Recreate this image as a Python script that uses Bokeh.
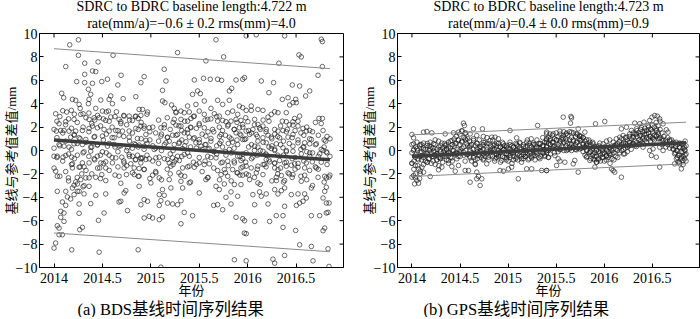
from bokeh.plotting import figure
from bokeh.models import Range1d, FixedTicker, Title
from bokeh.layouts import row
from bokeh.embed import file_html
from bokeh.resources import INLINE
try:
    from bokeh.models import GlobalInlineStyleSheet
    SHEETS = [GlobalInlineStyleSheet(css="body { margin: -2px 0 0 0; }")]
except Exception:
    SHEETS = []

SERIF = "Liberation Serif"
CJK = "'Liberation Serif', 'Noto Sans CJK SC'"

x_min, x_max = 2013.85, 2016.99
y_min, y_max = -10, 10
x_ticks = [2014, 2014.5, 2015, 2015.5, 2016, 2016.5]
x_tick_labels = ["2014", "2014.5", "2015", "2015.5", "2016", "2016.5"]
y_ticks = [-10, -8, -6, -4, -2, 0, 2, 4, 6, 8, 10]
y_tick_labels = ["\u221210", "\u22128", "\u22126", "\u22124", "\u22122", "0", "2", "4", "6", "8", "10"]

bds_titles = ["SDRC to BDRC baseline length:4.722 m", "rate(mm/a)=\u22120.6 \u00b1 0.2 rms(mm)=4.0"]
gps_titles = ["SDRC to BDRC baseline length:4.723 m", "rate(mm/a)=0.4 \u00b1 0.0 rms(mm)=0.9"]
captions = ["(a) BDS\u57fa\u7ebf\u65f6\u95f4\u5e8f\u5217\u7ed3\u679c", "(b) GPS\u57fa\u7ebf\u65f6\u95f4\u5e8f\u5217\u7ed3\u679c"]
x_label = "\u5e74\u4efd"
y_label = "\u57fa\u7ebf\u4e0e\u53c2\u8003\u503c\u5dee\u503c/mm"

# fitted rate lines and bounds (start/end)
fit_year = [2014.0, 2016.85]
bds_fit = [0.9, -0.8]
bds_upper = [8.7, 7.0]
bds_lower = [-7.05, -8.65]
gps_fit = [-0.49, 0.66]
gps_upper = [1.34, 2.42]
gps_lower = [-2.22, -1.14]

bds_points = [
(2014.162, 9.03), (2014.252, 9.46), (2014.252, 8.14), (2014.61, 8.14), (2014.121, 7.17), (2014.317, 7.46), (2014.455, 7.57), (2014.317, 6.51), (2014.397, 6.8), (2014.431, 6.74), (2014.693, 6.43), (2014.234, 5.89), (2014.317, 5.8), (2014.397, 5.74), (2014.493, 5.89), (2014.552, 6.09), (2014.659, 5.6), (2014.897, 5.8), (2014.355, 5.23), (2014.079, 4.89), (2014.1, 4.51), (2014.379, 4.8), (2014.19, 4.37), (2014.224, 4.29), (2014.362, 4.37), (2014.483, 4.31), (2014.586, 4.66), (2014.569, 4.37), (2014.714, 4.43), (2014.845, 4.6), (2014.259, 3.94), (2014.355, 4.0), (2014.603, 4.0), (2014.017, 3.14), (2014.131, 3.29), (2014.179, 3.43), (2014.276, 3.09), (2014.3, 3.14), (2014.431, 3.6), (2014.5, 3.37), (2014.562, 3.37), (2014.645, 3.31), (2014.586, 2.86), (2014.724, 2.94), (2014.776, 2.94), (2014.845, 2.94), (2014.879, 3.51), (2014.052, 2.29), (2014.121, 2.46), (2014.207, 2.66), (2014.362, 2.66), (2014.414, 2.8), (2014.466, 2.8), (2014.534, 2.57), (2014.672, 2.66), (2014.69, 2.46), (2014.81, 2.57), (2014.869, 2.74), (2014.024, 1.66), (2014.069, 1.71), (2014.103, 1.71), (2014.155, 1.66), (2014.224, 1.66), (2014.293, 1.71), (2014.362, 1.89), (2014.397, 2.09), (2014.448, 1.94), (2014.517, 1.8), (2014.569, 1.66), (2014.638, 1.71), (2014.707, 1.66), (2014.776, 1.66), (2014.845, 1.89), (2014.897, 2.09), (2014.172, 1.14), (2014.207, 1.37), (2014.259, 1.09), (2014.328, 0.94), (2014.414, 1.14), (2014.5, 1.23), (2014.621, 1.09), (2014.672, 1.31), (2014.776, 1.14), (2014.862, 1.03), (2014.052, 0.51), (2014.103, 0.37), (2014.155, 0.29), (2014.207, 0.57), (2014.293, 0.51), (2014.379, 0.29), (2014.448, 0.46), (2014.552, 0.37), (2014.621, 0.51), (2014.672, 0.37), (2014.759, 0.23), (2014.828, 0.57), (2014.879, 0.46), (2014.0, -0.49), (2014.034, -0.49), (2014.093, -0.57), (2014.121, -0.43), (2014.183, -0.57), (2014.241, -0.4), (2014.31, -0.11), (2014.379, -0.06), (2014.448, -0.49), (2014.5, -0.11), (2014.569, -0.4), (2014.638, -0.63), (2014.7, -0.57), (2014.776, -0.34), (2014.81, -0.49), (2014.862, -0.4), (2014.897, -0.63), (2014.19, -1.14), (2014.293, -1.06), (2014.362, -1.06), (2014.414, -0.71), (2014.483, -1.06), (2014.534, -0.97), (2014.603, -1.06), (2014.724, -1.06), (2014.793, -1.14), (2014.845, -0.77), (2014.897, -1.06), (2014.19, -1.49), (2014.259, -1.43), (2014.31, -1.4), (2014.472, -1.49), (2014.534, -1.49), (2014.724, -1.49), (2014.828, -1.49), (2014.879, -1.54), (2014.017, -1.77), (2014.286, -2.0), (2014.362, -2.34), (2014.431, -2.29), (2014.493, -2.06), (2014.672, -2.2), (2014.748, -2.06), (2014.828, -2.06), (2014.879, -2.2), (2014.034, -2.2), (2014.148, -2.34), (2014.224, -2.69), (2014.276, -2.49), (2014.328, -2.34), (2014.207, -2.97), (2014.241, -2.86), (2014.31, -3.0), (2014.534, -2.57), (2014.241, -3.49), (2014.034, -3.49), (2014.121, -3.49), (2014.19, -3.2), (2014.259, -3.49), (2014.362, -3.06), (2014.741, -3.43), (2014.879, -3.06), (2014.138, -3.97), (2014.207, -3.77), (2014.31, -3.71), (2014.431, -3.83), (2014.534, -3.71), (2014.724, -3.63), (2014.086, -4.4), (2014.172, -4.14), (2014.259, -4.57), (2014.121, -4.69), (2014.379, -4.54), (2014.672, -4.4), (2014.69, -4.34), (2014.897, -4.63), (2014.069, -5.2), (2014.103, -5.34), (2014.259, -5.37), (2014.517, -5.34), (2014.759, -5.14), (2014.069, -5.71), (2014.103, -6.06), (2014.459, -5.97), (2014.034, -6.43), (2014.052, -6.63), (2014.266, -6.77), (2014.293, -6.57), (2014.052, -7.2), (2014.086, -7.2), (2014.017, -7.91), (2014.0, -8.34), (2014.183, -8.49), (2014.466, -8.69), (2014.869, -8.49),
(2015.673, 9.46), (2015.276, 8.37), (2015.752, 8.0), (2015.569, 7.66), (2015.138, 6.94), (2014.931, 6.31), (2015.156, 5.94), (2015.449, 6.03), (2015.545, 6.17), (2015.614, 6.09), (2015.69, 6.09), (2015.731, 6.0), (2015.88, 6.03), (2015.949, 6.09), (2015.121, 5.14), (2015.431, 4.8), (2015.483, 5.09), (2015.511, 4.86), (2015.835, 5.31), (2015.811, 5.09), (2015.552, 4.23), (2015.69, 4.29), (2015.811, 4.29), (2015.121, 4.23), (2015.145, 4.09), (2015.214, 3.89), (2015.242, 3.6), (2015.311, 3.37), (2015.38, 3.8), (2015.466, 3.94), (2015.621, 3.6), (2015.742, 3.94), (2015.914, 3.8), (2015.949, 3.66), (2014.914, 3.51), (2014.966, 3.29), (2015.259, 3.23), (2015.345, 3.23), (2015.397, 3.29), (2015.449, 2.94), (2015.5, 3.37), (2015.552, 3.09), (2015.656, 3.14), (2015.707, 2.94), (2015.794, 3.23), (2015.845, 3.37), (2015.897, 3.09), (2014.897, 3.0), (2015.242, 2.66), (2015.311, 2.66), (2015.38, 2.51), (2015.414, 2.74), (2015.587, 2.66), (2015.69, 2.51), (2015.742, 2.57), (2015.776, 2.46), (2015.828, 2.51), (2015.88, 2.66), (2015.931, 2.57), (2014.931, 2.09), (2014.983, 1.94), (2015.104, 1.94), (2015.138, 1.94), (2015.259, 2.17), (2015.311, 2.09), (2015.38, 1.8), (2015.414, 1.94), (2015.5, 2.17), (2015.552, 1.94), (2015.638, 1.8), (2015.707, 2.0), (2015.794, 2.09), (2015.863, 1.8), (2015.914, 1.94), (2015.949, 2.23), (2014.949, 1.37), (2015.104, 1.23), (2015.173, 1.14), (2015.225, 1.31), (2015.276, 1.37), (2015.345, 1.51), (2015.397, 1.14), (2015.449, 1.09), (2015.5, 0.94), (2015.569, 1.23), (2015.621, 1.03), (2015.725, 1.37), (2015.811, 1.14), (2015.88, 1.51), (2015.931, 1.31), (2014.949, 0.86), (2015.156, 0.66), (2015.19, 0.8), (2015.242, 0.51), (2015.294, 0.71), (2015.363, 0.74), (2015.466, 0.66), (2015.518, 0.37), (2015.569, 0.51), (2015.725, 0.8), (2015.845, 0.71), (2015.897, 0.51), (2015.949, 0.94), (2014.931, 0.37), (2015.035, 0.09), (2015.328, 0.17), (2015.604, 0.17), (2015.656, -0.06), (2015.811, 0.09), (2014.914, -0.63), (2014.949, -0.77), (2014.983, -0.71), (2015.052, -0.63), (2015.087, -0.57), (2015.173, -0.77), (2015.225, -0.63), (2015.276, -0.49), (2015.345, -0.34), (2015.397, -0.49), (2015.587, -0.49), (2015.673, -0.63), (2015.776, -0.4), (2015.897, -0.49), (2015.949, -0.69), (2015.19, -1.06), (2015.242, -0.97), (2015.294, -0.86), (2015.397, -1.34), (2015.449, -1.43), (2015.5, -1.06), (2015.552, -1.2), (2015.604, -1.14), (2015.725, -1.06), (2015.794, -0.91), (2015.863, -1.06), (2015.931, -0.86), (2014.931, -1.63), (2015.052, -1.91), (2015.207, -1.34), (2015.328, -1.49), (2015.759, -1.63), (2015.69, -1.71), (2015.845, -1.63), (2015.931, -1.49), (2015.018, -2.11), (2015.087, -2.34), (2015.19, -2.49), (2015.311, -2.11), (2015.587, -2.34), (2015.725, -2.06), (2015.794, -2.2), (2015.897, -1.91), (2015.949, -2.11), (2015.0, -2.77), (2015.311, -2.63), (2015.397, -2.77), (2015.569, -2.49), (2015.673, -3.06), (2015.759, -2.86), (2015.863, -2.91), (2015.931, -2.91), (2015.121, -3.34), (2015.207, -3.2), (2015.328, -3.2), (2015.5, -3.63), (2015.707, -3.34), (2015.828, -3.54), (2015.087, -3.77), (2015.138, -3.83), (2015.776, -4.0), (2015.897, -3.91), (2014.931, -4.2), (2014.966, -4.34), (2015.104, -4.29), (2015.173, -4.49), (2015.225, -4.57), (2015.276, -4.63), (2015.311, -4.29), (2015.087, -4.69), (2015.649, -4.69), (2015.69, -4.63), (2015.828, -4.57), (2015.742, -5.06), (2015.345, -5.29), (2015.431, -5.57), (2014.931, -5.77), (2014.983, -5.63), (2015.018, -5.77), (2015.087, -5.91), (2015.121, -5.69), (2015.311, -6.26), (2015.88, -5.71), (2015.949, -5.83), (2015.966, -7.06), (2015.863, -9.34), (2015.104, -9.97),
(2016.089, 9.89), (2016.382, 9.8), (2015.985, 9.8), (2016.761, 9.51), (2016.772, 9.31), (2016.53, 8.17), (2016.554, 8.0), (2016.323, 7.46), (2016.772, 7.17), (2016.727, 6.43), (2016.141, 5.94), (2016.268, 5.8), (2016.461, 5.6), (2016.537, 5.51), (2016.22, 4.94), (2016.599, 4.66), (2016.641, 5.09), (2015.968, 6.23), (2016.358, 4.37), (2016.417, 4.51), (2016.496, 4.37), (2016.468, 4.09), (2016.503, 4.09), (2016.434, 3.89), (2016.037, 3.8), (2016.106, 3.51), (2015.985, 3.43), (2016.037, 3.43), (2016.158, 3.43), (2016.279, 3.31), (2016.313, 3.23), (2016.399, 3.23), (2016.244, 3.09), (2016.485, 2.74), (2016.537, 2.94), (2016.737, 2.74), (2016.772, 2.74), (2016.072, 2.66), (2016.21, 2.86), (2016.358, 2.51), (2016.399, 2.46), (2016.468, 2.46), (2016.003, 2.46), (2016.106, 2.23), (2016.054, 1.8), (2016.123, 1.94), (2016.158, 2.09), (2016.192, 1.8), (2016.279, 1.8), (2016.313, 1.66), (2016.365, 1.71), (2016.41, 1.8), (2016.468, 2.17), (2016.52, 2.09), (2016.572, 1.89), (2016.606, 1.66), (2016.641, 1.71), (2016.779, 1.71), (2015.985, 1.66), (2015.968, 0.94), (2016.02, 1.37), (2016.089, 1.37), (2016.21, 1.31), (2016.244, 1.14), (2016.33, 1.09), (2016.417, 1.14), (2016.468, 1.37), (2016.658, 0.94), (2016.806, 0.8), (2016.106, 0.8), (2016.158, 1.09), (2016.192, 0.66), (2016.296, 0.57), (2016.52, 0.66), (2016.589, 0.66), (2016.641, 0.57), (2016.71, 0.57), (2016.072, 0.37), (2016.106, 0.29), (2016.244, 0.17), (2016.365, 0.23), (2016.468, 0.37), (2016.572, 0.29), (2016.779, 0.0), (2016.813, -0.11), (2015.985, -0.2), (2016.158, -0.06), (2016.192, -0.4), (2016.279, 0.0), (2016.399, -0.11), (2016.468, -0.06), (2016.554, -0.29), (2016.641, -0.2), (2016.744, -0.29), (2016.054, -0.57), (2016.192, -0.77), (2016.227, -0.97), (2016.279, -1.06), (2016.33, -0.86), (2016.382, -1.06), (2016.451, -1.26), (2016.485, -1.14), (2016.606, -1.06), (2016.668, -0.97), (2015.985, -1.34), (2016.037, -1.49), (2016.106, -1.34), (2016.175, -1.2), (2016.279, -1.49), (2016.313, -1.63), (2016.399, -1.34), (2016.52, -1.43), (2016.589, -1.49), (2016.71, -1.49), (2016.796, -2.2), (2016.841, -2.26), (2015.985, -2.0), (2016.089, -1.91), (2016.158, -2.06), (2016.296, -2.29), (2016.348, -2.14), (2016.417, -1.91), (2016.468, -2.06), (2016.589, -2.11), (2016.727, -2.29), (2016.813, -2.34), (2016.02, -2.49), (2016.106, -2.77), (2016.296, -2.57), (2016.382, -2.57), (2016.554, -2.63), (2016.658, -3.2), (2016.813, -3.14), (2016.279, -3.34), (2016.382, -3.2), (2016.348, -3.43), (2016.451, -3.77), (2016.52, -3.71), (2016.589, -3.71), (2016.796, -3.49), (2016.123, -3.54), (2016.054, -3.77), (2016.141, -3.91), (2016.192, -3.71), (2016.313, -3.71), (2016.606, -4.06), (2016.572, -4.34), (2016.779, -4.06), (2016.813, -4.49), (2016.841, -4.49), (2016.072, -4.63), (2016.21, -4.57), (2016.382, -4.77), (2016.503, -4.69), (2016.537, -4.49), (2016.813, -5.34), (2016.83, -5.29), (2016.296, -5.57), (2016.365, -5.57), (2016.658, -5.57), (2016.744, -5.57), (2015.968, -6.0), (2016.072, -6.06), (2016.227, -6.06), (2016.365, -6.57), (2016.496, -6.83), (2016.779, -6.86), (2016.796, -6.63), (2015.985, -7.11), (2016.537, -8.06), (2016.658, -8.2), (2016.83, -8.4), (2015.985, -9.43), (2016.261, -9.29), (2016.279, -9.63), (2016.382, -8.97), (2016.675, -9.43), (2016.841, -9.91),
]

# overlapping points in the dense middle of the BDS cloud: epoch -> values
bds_core = [
(2014.00, [1.8, -1.5, 0.2]), (2014.03, [-0.6, 2.5, 1.1]), (2014.06, [0.4, -2.2, 2.9]), (2014.09, [1.5, -0.9, 3.4]),
(2014.12, [-1.8, 0.8, 2.2]), (2014.15, [2.7, -0.3, -2.6]), (2014.18, [0.1, 1.9, -1.2]), (2014.21, [3.1, -0.7, 1.3]),
(2014.24, [-2.3, 0.6, 2.4]), (2014.27, [1.0, -1.4, 3.6]), (2014.30, [2.0, -0.2, -3.1]), (2014.33, [0.7, 2.8, -1.7]),
(2014.36, [-0.5, 1.6, 3.2]), (2014.39, [2.3, -2.0, 0.3]), (2014.42, [1.2, -0.8, 2.6]), (2014.45, [-1.5, 0.5, 3.0]),
(2014.48, [2.1, -0.4, -2.4]), (2014.51, [0.9, 2.7, -1.1]), (2014.54, [-0.2, 1.4, 3.3]), (2014.57, [2.5, -1.7, 0.6]),
(2014.60, [1.1, -0.6, 2.0]), (2014.63, [-2.1, 0.3, 2.9]), (2014.66, [1.7, -0.1, -1.4]), (2014.69, [0.4, 2.3, -2.8]),
(2014.72, [-0.9, 1.2, 3.0]), (2014.75, [2.2, -1.3, 0.0]), (2014.78, [0.8, -0.5, 2.6]), (2014.81, [-1.9, 0.2, 1.5]),
(2014.84, [2.9, -0.8, 0.5]), (2014.87, [0.3, 1.8, -2.2]), (2014.90, [-0.7, 1.0, 2.4]), (2014.93, [1.9, -1.6, 0.1]),
(2014.96, [0.6, -0.4, 3.1]), (2014.99, [-2.4, 0.9, 1.6]), (2015.02, [2.0, -0.9, 0.4]), (2015.05, [0.2, 1.5, -1.8]),
(2015.08, [-1.1, 2.6, 0.8]), (2015.11, [1.4, -2.5, 0.0]), (2015.14, [0.5, -0.7, 2.2]), (2015.17, [-1.6, 1.1, 2.8]),
(2015.20, [1.8, -0.3, -2.0]), (2015.23, [0.0, 2.4, -1.2]), (2015.26, [-0.8, 1.3, 3.3]), (2015.29, [2.1, -1.9, 0.6]),
(2015.32, [0.9, -0.5, 1.7]), (2015.35, [-2.2, 0.4, 2.5]), (2015.38, [1.5, -0.2, -1.4]), (2015.41, [0.3, 2.0, -2.7]),
(2015.44, [-1.0, 1.0, 2.9]), (2015.47, [1.9, -1.2, 0.2]), (2015.50, [0.7, -0.6, 2.3]), (2015.53, [-1.8, 0.1, 1.4]),
(2015.56, [2.6, -0.9, 0.5]), (2015.59, [0.1, 1.6, -2.3]), (2015.62, [-0.6, 0.8, 2.7]), (2015.65, [1.6, -1.5, -0.1]),
(2015.68, [0.4, -0.3, 2.9]), (2015.71, [-2.5, 0.6, 1.2]), (2015.74, [1.7, -1.0, 0.3]), (2015.77, [-0.1, 1.3, -1.9]),
(2015.80, [-1.3, 2.2, 0.6]), (2015.83, [1.0, -2.6, -0.2]), (2015.86, [0.2, -0.9, 1.8]), (2015.89, [-1.9, 0.9, 2.4]),
(2015.92, [1.4, -0.5, -2.1]), (2015.95, [-0.3, 2.0, -1.4]), (2015.98, [-1.0, 1.0, 2.8]), (2016.01, [1.7, -2.1, 0.3]),
(2016.04, [0.5, -0.7, 1.5]), (2016.07, [-2.3, 0.0, 2.2]), (2016.10, [1.2, -0.4, -1.6]), (2016.13, [0.0, 1.8, -2.9]),
(2016.16, [-1.2, 0.7, 2.6]), (2016.19, [1.6, -1.4, -0.3]), (2016.22, [0.3, -0.8, 2.5]), (2016.25, [-2.6, 0.4, 1.0]),
(2016.28, [1.4, -1.1, 0.1]), (2016.31, [-0.4, 1.2, -2.0]), (2016.34, [-1.5, 2.1, 0.5]), (2016.37, [0.8, -2.7, -0.4]),
(2016.40, [0.0, -1.0, 1.6]), (2016.43, [-2.0, 0.6, 2.2]), (2016.46, [1.1, -0.7, -2.3]), (2016.49, [-0.6, 1.7, -1.6]),
(2016.52, [-1.1, 0.9, 2.5]), (2016.55, [1.5, -2.2, 0.1]), (2016.58, [0.3, -0.9, 1.3]), (2016.61, [-2.5, -0.1, 2.0]),
(2016.64, [1.0, -0.5, -1.7]), (2016.67, [-0.2, 1.6, -3.0]), (2016.70, [-1.4, 0.5, 2.4]), (2016.73, [1.3, -1.6, -0.5]),
(2016.76, [0.1, -1.0, 2.3]), (2016.79, [-2.7, 0.3, 0.9]), (2016.82, [1.2, -1.2, -0.2]), (2016.85, [-0.5, 1.0, -2.1]),
]

gps_points = [
(2014.536, 2.34), (2014.546, 2.14), (2014.64, 1.85), (2014.733, 1.85), (2015.02, 1.71), (2015.307, 2.14), (2014.0, 1.37), (2014.017, 1.08), (2014.121, 1.57), (2014.156, 1.62), (2014.207, 1.51), (2014.346, 1.42), (2014.432, 1.51), (2014.484, 1.57), (2014.519, 1.65), (2014.553, 1.48), (2014.605, 1.42), (2014.674, 1.28), (2014.743, 1.2), (2014.83, 1.14), (2014.864, 1.14), (2014.899, 1.0), (2015.089, 1.08), (2015.4, 1.42), (2015.418, 1.14),
(2014.017, 0.57), (2014.052, 0.71), (2014.086, 0.51), (2014.121, 0.63), (2014.156, 0.43), (2014.19, 0.71), (2014.225, 0.57), (2014.242, 0.91), (2014.277, 0.8), (2014.311, 0.63), (2014.346, 0.43), (2014.38, 0.71), (2014.415, 0.85), (2014.45, 0.57), (2014.484, 0.91), (2014.519, 0.71), (2014.553, 1.0), (2014.571, 0.57), (2014.605, 0.43), (2014.64, 0.85), (2014.674, 0.63), (2014.709, 0.34), (2014.743, 0.71), (2014.778, 0.57), (2014.813, 0.85), (2014.847, 0.43), (2014.882, 0.63), (2014.916, 0.28), (2014.951, 0.57), (2014.985, 0.43), (2015.02, 0.71), (2015.055, 0.28), (2015.089, 0.51), (2015.124, 0.63), (2015.158, 0.34), (2015.193, 0.71), (2015.228, 0.43), (2015.262, 0.63), (2015.297, 0.28), (2015.331, 0.57), (2015.366, 0.43), (2015.4, 0.71),
(2014.017, 0.0), (2014.052, 0.14), (2014.086, -0.14), (2014.121, 0.06), (2014.156, -0.23), (2014.19, 0.14), (2014.225, -0.06), (2014.259, -0.28), (2014.294, 0.06), (2014.328, -0.14), (2014.363, 0.14), (2014.398, -0.23), (2014.432, 0.0), (2014.467, -0.28), (2014.501, 0.06), (2014.536, -0.14), (2014.571, -0.34), (2014.605, 0.0), (2014.64, -0.23), (2014.674, 0.14), (2014.709, -0.06), (2014.743, -0.28), (2014.778, 0.06), (2014.813, -0.17), (2014.847, 0.0), (2014.882, -0.34), (2014.916, -0.14), (2014.951, 0.06), (2014.985, -0.28), (2015.02, -0.06), (2015.055, -0.23), (2015.089, 0.06), (2015.124, -0.14), (2015.158, -0.34), (2015.193, 0.0), (2015.228, -0.23), (2015.262, 0.06), (2015.297, -0.14), (2015.331, 0.14), (2015.366, -0.23), (2015.4, 0.0),
(2014.035, -0.57), (2014.069, -0.8), (2014.104, -0.43), (2014.156, -1.0), (2014.173, -0.71), (2014.207, -0.51), (2014.259, -0.8), (2014.294, -0.63), (2014.346, -0.51), (2014.38, -0.85), (2014.415, -0.63), (2014.467, -0.71), (2014.501, -0.51), (2014.553, -0.91), (2014.605, -0.63), (2014.657, -0.8), (2014.692, -0.43), (2014.743, -0.71), (2014.795, -0.57), (2014.864, -0.71), (2014.899, -0.51), (2014.934, -0.85), (2014.985, -0.63), (2015.02, -0.43), (2015.055, -0.8), (2015.089, -0.57), (2015.141, -0.71), (2015.176, -0.51), (2015.21, -0.8), (2015.245, -0.63), (2015.279, -0.43), (2015.331, -0.71), (2015.383, -0.51),
(2014.0, -1.08), (2014.035, -1.28), (2014.069, -1.57), (2014.086, -1.77), (2014.104, -1.42), (2014.017, -2.14), (2014.035, -2.34), (2014.052, -2.56), (2014.069, -2.79), (2014.028, -2.85), (2014.0, -2.28), (2014.086, -1.99), (2014.121, -1.85), (2014.19, -2.22), (2014.242, -1.2), (2014.277, -1.65), (2014.311, -1.42), (2014.38, -1.08), (2014.415, -1.37), (2014.45, -1.77), (2014.484, -1.28), (2014.553, -1.71), (2014.588, -1.71), (2014.657, -1.14), (2014.674, -1.85), (2014.692, -2.22), (2014.605, -2.71), (2014.674, -2.42), (2014.726, -2.42), (2014.709, -2.99), (2014.778, -1.14), (2014.916, -1.71), (2014.951, -1.77), (2015.003, -1.57), (2015.037, -1.42), (2015.106, -2.42), (2015.193, -1.57), (2015.245, -1.57), (2015.349, -1.71), (2015.4, -1.71),
(2015.573, 2.85), (2015.653, 2.91), (2015.66, 2.79), (2015.649, 2.34), (2015.909, 2.28), (2016.005, 2.48), (2016.317, 2.34), (2016.368, 2.28), (2016.413, 2.42), (2016.455, 2.14), (2016.472, 2.56), (2016.496, 2.85), (2016.524, 2.99), (2016.552, 2.93), (2016.576, 2.71), (2016.611, 2.28), (2016.645, 1.77), (2016.662, 1.57), (2016.178, 1.85), (2016.23, 1.99), (2016.282, 1.71), (2016.334, 1.85), (2016.386, 1.99), (2016.42, 1.65), (2016.49, 1.77), (2016.541, 1.85), (2016.559, 1.57), (2015.798, 1.57), (2015.729, 1.85), (2015.4, 1.57), (2015.435, 1.42), (2015.469, 1.42), (2015.539, 1.65), (2015.573, 1.28), (2015.608, 1.48), (2015.66, 1.57), (2015.711, 1.42), (2015.746, 1.2), (2015.781, 1.08), (2015.815, 0.91),
(2015.4, 1.0), (2015.435, 0.85), (2015.469, 0.71), (2015.504, 0.91), (2015.539, 0.63), (2015.573, 1.0), (2015.608, 0.8), (2015.642, 0.57), (2015.677, 0.91), (2015.711, 0.71), (2015.746, 0.85), (2015.781, 0.57), (2015.815, 0.43), (2015.85, 0.71), (2015.884, 0.57), (2015.919, 0.34), (2015.954, 0.63), (2015.988, 0.57), (2016.023, 0.8), (2016.057, 0.91), (2016.092, 0.71), (2016.126, 1.0), (2016.161, 1.14), (2016.196, 1.28), (2016.23, 1.14), (2016.265, 1.42), (2016.299, 1.2), (2016.334, 1.42), (2016.368, 1.28), (2016.403, 1.14), (2016.438, 1.42), (2016.472, 1.2), (2016.507, 1.0), (2016.541, 1.28), (2016.576, 1.0), (2016.611, 0.85), (2016.645, 0.71), (2016.68, 0.91), (2016.714, 0.57), (2016.749, 0.71), (2016.783, 0.63), (2016.818, 0.51), (2016.835, 0.28),
(2015.4, 0.28), (2015.435, 0.14), (2015.469, 0.34), (2015.504, 0.14), (2015.539, 0.06), (2015.573, 0.28), (2015.608, 0.0), (2015.642, 0.14), (2015.677, 0.28), (2015.711, 0.06), (2015.746, 0.14), (2015.781, 0.28), (2015.815, 0.0), (2015.85, -0.14), (2015.884, -0.28), (2015.919, 0.0), (2015.954, -0.23), (2015.988, 0.14), (2016.023, 0.0), (2016.057, 0.28), (2016.092, 0.14), (2016.126, 0.43), (2016.161, 0.28), (2016.196, 0.57), (2016.23, 0.43), (2016.265, 0.71), (2016.299, 0.57), (2016.334, 0.34), (2016.368, 0.57), (2016.403, 0.28), (2016.472, 0.0), (2016.507, 0.14), (2016.576, 0.28), (2016.611, 0.0), (2016.714, 0.14), (2016.749, 0.0), (2016.783, 0.23), (2016.818, -0.14), (2016.835, 0.06), (2016.731, -0.28), (2016.766, -0.43), (2016.801, -0.57),
(2015.418, -0.57), (2015.487, -0.43), (2015.521, -0.71), (2015.504, -1.28), (2015.539, -0.91), (2015.59, -1.0), (2015.677, -1.14), (2015.694, -0.85), (2015.815, -0.57), (2015.85, -0.85), (2015.884, -0.71), (2015.902, -0.51), (2015.919, -1.0), (2015.936, -0.8), (2015.902, -1.42), (2016.075, -1.57), (2016.092, -1.71), (2016.109, -1.85), (2016.178, -2.28), (2015.729, -1.85), (2015.4, -1.71), (2015.988, -0.57), (2016.023, -0.43), (2016.057, -0.28), (2016.213, -0.28), (2016.49, -0.43), (2016.541, -0.57), (2016.576, -1.42), (2016.749, -0.71), (2016.766, -1.0), (2016.783, -1.14), (2016.801, -1.57), (2016.818, -0.85), (2016.731, -1.14), (2016.835, -0.71),
]

# dense core of the GPS series: epoch -> values read around the band centre
gps_core = [
(2014.00, [-0.2, -1.1, 0.5]), (2014.02, [-0.9, 0.1, -1.6]), (2014.04, [-0.4, -2.0, 0.3]), (2014.06, [0.0, -1.3, -0.7]),
(2014.08, [-0.5, 0.4, -2.4]), (2014.10, [-0.1, -0.8, 0.5]), (2014.12, [-0.6, 0.2, -1.2]), (2014.14, [0.1, -0.4, -0.9]),
(2014.16, [-0.3, 0.6, -1.0]), (2014.18, [-0.7, 0.0, 0.4]), (2014.20, [-0.2, -1.1, 0.3]), (2014.22, [0.2, -0.5, -0.9]),
(2014.24, [-0.4, 0.5, -0.1]), (2014.26, [-0.8, 0.1, -0.3]), (2014.28, [0.3, -0.6, -1.3]), (2014.30, [-0.1, 0.4, -0.7]),
(2014.32, [0.2, -0.5, -1.0]), (2014.34, [-0.3, 0.6, 0.0]), (2014.36, [-0.8, 0.1, 0.5]), (2014.38, [0.3, -0.4, -0.2]),
(2014.40, [-0.6, 0.2, 0.8]), (2014.42, [0.0, -0.9, 0.5]), (2014.44, [0.4, -0.3, 1.0]), (2014.46, [0.6, -0.2, 1.2]),
(2014.48, [0.1, 0.9, -0.5]), (2014.50, [0.5, 1.4, -0.1]), (2014.52, [0.8, 0.2, 1.7]), (2014.54, [0.3, 1.1, -0.4]),
(2014.56, [0.9, 0.0, 1.5]), (2014.58, [0.4, -0.3, 1.0]), (2014.60, [0.3, -0.5, 0.8]), (2014.62, [-0.2, 0.5, -0.9]),
(2014.64, [0.1, -0.6, 1.0]), (2014.66, [-0.3, 0.4, -1.2]), (2014.68, [0.6, -0.1, -0.7]), (2014.70, [0.2, -0.4, 0.9]),
(2014.72, [-0.6, 0.3, -0.1]), (2014.74, [0.5, -0.8, 0.1]), (2014.76, [-0.2, 0.7, -0.5]), (2014.78, [0.3, -0.3, 1.1]),
(2014.80, [-0.1, 0.6, -0.8]), (2014.82, [0.4, -0.4, 0.0]), (2014.84, [-0.5, 0.2, 0.9]), (2014.86, [0.1, -0.9, 0.5]),
(2014.88, [-0.3, 0.4, -0.6]), (2014.90, [0.6, 0.0, -0.4]), (2014.92, [-0.2, 0.3, -1.0]), (2014.94, [0.2, -0.5, 0.7]),
(2014.96, [-0.6, 0.1, 0.4]), (2014.98, [0.3, -0.3, -0.8]), (2015.00, [-0.4, 0.2, -0.9]), (2015.02, [0.1, -0.6, 0.5]),
(2015.04, [-0.2, 0.4, -1.1]), (2015.06, [0.3, -0.5, -0.1]), (2015.08, [-0.7, 0.0, 0.6]), (2015.10, [-0.3, 0.4, -0.8]),
(2015.12, [0.2, -0.4, 0.7]), (2015.14, [-0.5, 0.1, -1.0]), (2015.16, [0.0, -0.7, 0.5]), (2015.18, [-0.2, 0.3, -0.5]),
(2015.20, [0.4, -0.3, 0.9]), (2015.22, [-0.1, 0.6, -0.7]), (2015.24, [0.3, -0.5, 1.0]), (2015.26, [0.0, 0.5, -0.4]),
(2015.28, [0.5, -0.2, -0.8]), (2015.30, [-0.3, 0.3, 0.9]), (2015.32, [0.2, -0.6, 0.6]), (2015.34, [0.6, -0.1, -0.5]),
(2015.36, [-0.2, 0.4, 1.1]), (2015.38, [0.1, -0.4, 0.7]), (2015.40, [0.4, -0.2, 0.9]), (2015.42, [0.0, 0.6, -0.6]),
(2015.44, [0.5, -0.3, 1.0]), (2015.46, [0.7, 0.2, 1.3]), (2015.48, [0.4, 1.0, -0.2]), (2015.50, [0.9, 0.3, 1.5]),
(2015.52, [0.5, 1.2, -0.1]), (2015.54, [0.8, 0.1, 1.4]), (2015.56, [0.4, 1.1, 0.9]), (2015.58, [0.7, 0.0, 1.6]),
(2015.60, [1.0, 0.4, 1.4]), (2015.62, [0.6, 1.3, 0.1]), (2015.64, [0.9, 0.3, 1.6]), (2015.66, [0.5, 1.1, 0.0]),
(2015.68, [0.8, 1.5, 0.3]), (2015.70, [1.2, 0.5, 0.1]), (2015.72, [0.7, 1.4, 0.2]), (2015.74, [0.4, 1.0, 1.3]),
(2015.76, [0.9, 0.2, 1.2]), (2015.78, [0.5, 1.1, -0.1]), (2015.80, [0.3, 0.8, -0.4]), (2015.82, [0.0, 0.6, -0.5]),
(2015.84, [0.4, -0.2, 0.9]), (2015.86, [-0.1, 0.5, -0.7]), (2015.88, [0.2, -0.4, 0.7]), (2015.90, [-0.2, -0.8, 0.3]),
(2015.92, [-0.5, 0.1, -1.0]), (2015.94, [-0.1, -0.7, 0.4]), (2015.96, [-0.4, 0.2, -0.9]), (2015.98, [-0.6, 0.0, -0.3]),
(2016.00, [-0.2, -0.9, 0.3]), (2016.02, [-0.5, 0.1, -0.8]), (2016.04, [-0.1, -0.6, 0.4]), (2016.06, [-0.4, 0.2, -1.1]),
(2016.08, [-0.7, 0.0, -0.3]), (2016.10, [-0.2, 0.4, -0.8]), (2016.12, [-0.5, 0.1, 0.5]), (2016.14, [0.0, -0.6, 0.6]),
(2016.16, [0.3, -0.2, 0.8]), (2016.18, [0.5, 0.0, 1.0]), (2016.20, [0.1, 0.7, -0.3]), (2016.22, [0.6, 0.2, 1.1]),
(2016.24, [0.3, 0.9, -0.1]), (2016.26, [0.7, 0.4, 1.2]), (2016.28, [0.5, 1.0, 0.1]), (2016.30, [1.1, 0.6, 1.5]),
(2016.32, [0.8, 1.4, 0.4]), (2016.34, [1.2, 0.7, 1.7]), (2016.36, [0.9, 1.5, 0.5]), (2016.38, [1.3, 0.8, 1.8]),
(2016.40, [1.0, 1.6, 0.6]), (2016.42, [1.4, 0.9, 1.9]), (2016.44, [1.1, 1.7, 0.7]), (2016.46, [1.5, 1.0, 2.0]),
(2016.48, [1.2, 1.8, 0.8]), (2016.50, [1.6, 1.1, 2.2]), (2016.52, [1.3, 2.0, 0.9]), (2016.54, [1.7, 1.2, 2.4]),
(2016.56, [1.4, 2.1, 1.0]), (2016.58, [1.8, 1.1, 2.5]), (2016.60, [1.0, 0.5, 1.5]), (2016.62, [0.6, 1.2]),
(2016.64, [0.9, 0.3]), (2016.66, [0.5, 1.1]), (2016.68, [0.8, 0.2]), (2016.70, [0.4, 0.9]),
(2016.72, [0.7, 0.1]), (2016.74, [0.3, -0.2]), (2016.76, [0.0, -0.6, 0.5]), (2016.78, [-0.4, 0.3, -1.0]),
(2016.80, [-0.1, -0.7, 0.6]), (2016.82, [-0.5, 0.2, -1.2]), (2016.84, [0.0, -0.4, 0.8]), (2016.85, [-0.3, 0.4, -0.9]),
]

TICK_DY = 0.34   # inward tick length on the top edge, in data units (~4 px)
TICK_DX = 0.041  # inward tick length on the right edge, in data units (~4 px)


def make_panel(xs, ys, fit, upper, lower, titles, caption, cap_offset, ml, mr):
    p = figure(width=350, height=320, x_range=Range1d(x_min, x_max), y_range=Range1d(y_min, y_max),
               output_backend="svg", toolbar_location=None,
               min_border_left=ml, min_border_right=mr, min_border_top=35, min_border_bottom=51)
    p.grid.visible = False
    p.outline_line_color = "black"
    p.outline_line_width = 1
    p.scatter(xs, ys, marker="circle", size=4.6, fill_color=None, line_color="#1c1c1c", line_width=0.65)
    p.line(fit_year, upper, line_color="#8a8a8a", line_width=1)
    p.line(fit_year, lower, line_color="#8a8a8a", line_width=1)
    p.line(fit_year, fit, line_color="#3c3c3c", line_width=3.5)

    # inward ticks on the top and right edges of the box
    p.segment(x0=x_ticks, x1=x_ticks, y0=[y_max] * len(x_ticks), y1=[y_max - TICK_DY] * len(x_ticks),
              line_color="black", line_width=1)
    p.segment(x0=[x_max] * len(y_ticks), x1=[x_max - TICK_DX] * len(y_ticks), y0=y_ticks, y1=y_ticks,
              line_color="black", line_width=1)

    for ax in (p.xaxis[0], p.yaxis[0]):
        ax.major_tick_in = 4
        ax.major_tick_out = 0
        ax.minor_tick_in = 0
        ax.minor_tick_out = 0
        ax.axis_line_color = "black"
        ax.major_tick_line_color = "black"
        ax.major_label_text_font = SERIF
        ax.major_label_text_font_size = "14px"
        ax.major_label_text_color = "black"
        ax.axis_label_text_font = CJK
        ax.axis_label_text_font_style = "normal"
        ax.axis_label_text_color = "black"
    p.xaxis.ticker = FixedTicker(ticks=x_ticks)
    p.xaxis.major_label_overrides = dict(zip(x_ticks, x_tick_labels))
    p.yaxis.ticker = FixedTicker(ticks=y_ticks)
    p.yaxis.major_label_overrides = dict(zip(y_ticks, y_tick_labels))
    p.xaxis.axis_label = x_label
    p.xaxis.axis_label_text_font_size = "13px"
    p.xaxis.major_label_standoff = 5
    p.xaxis.axis_label_standoff = -3
    p.yaxis.axis_label = y_label
    p.yaxis.axis_label_text_font_size = "13px"
    p.yaxis.major_label_standoff = 2
    p.yaxis.axis_label_standoff = -6

    # two title lines: second line nearest the frame, first line above it
    p.add_layout(Title(text=titles[1], align="center", text_font=SERIF, text_font_size="14px",
                       text_font_style="normal", text_color="black", standoff=5), "above")
    p.add_layout(Title(text=titles[0], align="center", text_font=SERIF, text_font_size="14px",
                       text_font_style="normal", text_color="black", standoff=-5), "above")
    p.add_layout(Title(text=caption, align="left", offset=cap_offset, text_font=CJK,
                       text_font_size="16.5px", text_font_style="normal", text_color="black",
                       standoff=-6), "below")
    return p


bds_year = [pt[0] for pt in bds_points] + [t for t, vals in bds_core for _ in vals]
bds_val = [pt[1] for pt in bds_points] + [v for _, vals in bds_core for v in vals]
gps_year = [pt[0] for pt in gps_points] + [t for t, vals in gps_core for _ in vals]
gps_val = [pt[1] for pt in gps_points] + [v for _, vals in gps_core for v in vals]

p1 = make_panel(bds_year, bds_val, bds_fit, bds_upper, bds_lower, bds_titles, captions[0], 38, 39, 7)
p2 = make_panel(gps_year, gps_val, gps_fit, gps_upper, gps_lower, gps_titles, captions[1], 26, 47, 1)

layout = row(p1, p2, stylesheets=SHEETS)
open("out.html", "w").write(file_html(layout, INLINE))
